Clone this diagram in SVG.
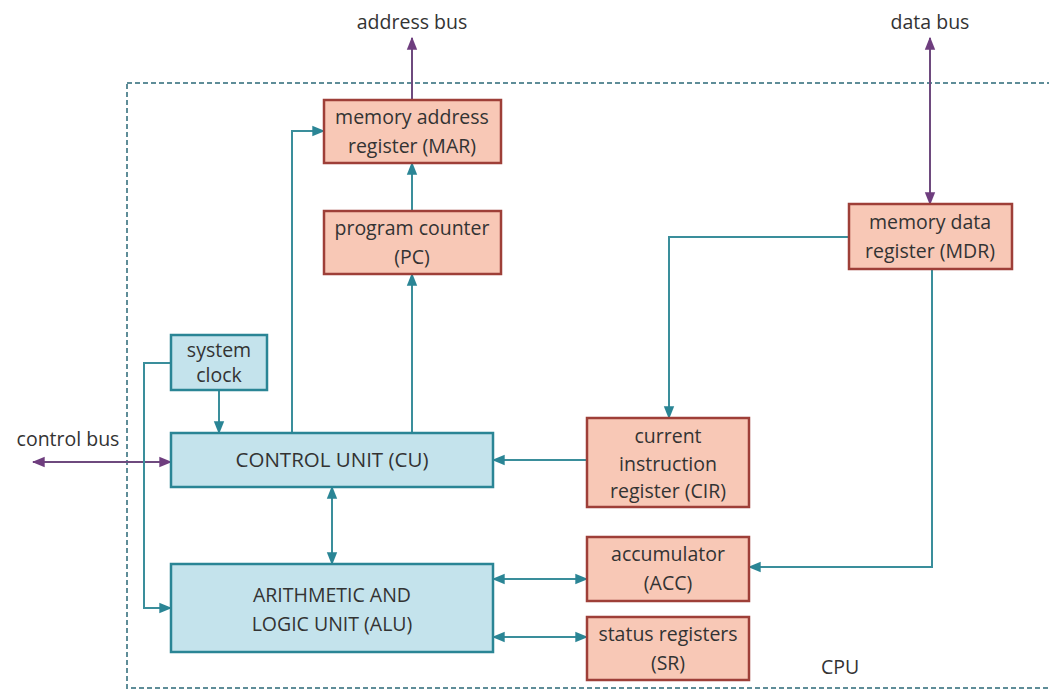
<svg xmlns="http://www.w3.org/2000/svg" width="1049" height="700" viewBox="0 0 1049 700">
<style>
.pink{fill:#f8c8b6;stroke:#9e3f38;stroke-width:2.5}
.blue{fill:#c4e3ec;stroke:#2a8595;stroke-width:2.5}
.t{font-family:"Open Sans","Liberation Sans",sans-serif;font-size:19.5px;fill:#333;text-anchor:middle}
.c{fill:none;stroke:#3a8e9b;stroke-width:2}
.p{fill:none;stroke:#6e4a7e;stroke-width:2}
</style>
<defs>
<marker id="ap" viewBox="0 0 10 10" refX="9" refY="5" markerWidth="13" markerHeight="13" orient="auto-start-reverse" markerUnits="userSpaceOnUse">
<path d="M0,1 L10,5 L0,9 z" fill="#6e3d7e"/>
</marker>
<marker id="at" viewBox="0 0 10 10" refX="9" refY="5" markerWidth="13" markerHeight="13" orient="auto-start-reverse" markerUnits="userSpaceOnUse">
<path d="M0,1 L10,5 L0,9 z" fill="#2a8595"/>
</marker>
</defs>
<rect x="127" y="83" width="930" height="605" fill="none" stroke="#5e8d98" stroke-width="2" stroke-dasharray="5,3"/>
<text class="t" x="840" y="674">CPU</text>
<text class="t" x="412" y="29">address bus</text>
<text class="t" x="930" y="29">data bus</text>
<text class="t" x="68" y="446">control bus</text>
<g id="connectors">
<path class="p" d="M412,100 V38" marker-end="url(#ap)"/>
<path class="p" d="M930,38 V204" marker-start="url(#ap)" marker-end="url(#ap)"/>
<path class="p" d="M33,462 H171" marker-start="url(#ap)" marker-end="url(#ap)"/>
<path class="c" d="M412,211 V163" marker-end="url(#at)"/>
<path class="c" d="M412,433 V274" marker-end="url(#at)"/>
<path class="c" d="M292,433 V131 H324" marker-end="url(#at)"/>
<path class="c" d="M849,237 H669 V418" marker-end="url(#at)"/>
<path class="c" d="M932,269 V567 H749" marker-end="url(#at)"/>
<path class="c" d="M587,460 H493" marker-end="url(#at)"/>
<path class="c" d="M219,390 V433" marker-end="url(#at)"/>
<path class="c" d="M171,363 H144 V608 H171" marker-end="url(#at)"/>
<path class="c" d="M332,487 V564" marker-start="url(#at)" marker-end="url(#at)"/>
<path class="c" d="M493,579 H587" marker-start="url(#at)" marker-end="url(#at)"/>
<path class="c" d="M493,637 H587" marker-start="url(#at)" marker-end="url(#at)"/>
</g>
<g id="mar"><rect class="pink" x="324" y="100" width="177" height="63"/><text class="t" x="412" y="124">memory address</text><text class="t" x="412" y="153">register (MAR)</text></g>
<g id="pc"><rect class="pink" x="324" y="211" width="177" height="63"/><text class="t" x="412" y="235">program counter</text><text class="t" x="412" y="264">(PC)</text></g>
<g id="mdr"><rect class="pink" x="849" y="204" width="163" height="65"/><text class="t" x="930" y="229">memory data</text><text class="t" x="930" y="258">register (MDR)</text></g>
<g id="clock"><rect class="blue" x="171" y="335" width="96" height="55"/><text class="t" x="219" y="357">system</text><text class="t" x="219" y="382">clock</text></g>
<g id="cu"><rect class="blue" x="171" y="433" width="322" height="54"/><text class="t" x="332" y="467" style="font-size:20.5px">CONTROL UNIT (CU)</text></g>
<g id="alu"><rect class="blue" x="171" y="564" width="322" height="88"/><text class="t" x="332" y="602">ARITHMETIC AND</text><text class="t" x="332" y="631">LOGIC UNIT (ALU)</text></g>
<g id="cir"><rect class="pink" x="587" y="418" width="162" height="89"/><text class="t" x="668" y="443">current</text><text class="t" x="668" y="471">instruction</text><text class="t" x="668" y="498">register (CIR)</text></g>
<g id="acc"><rect class="pink" x="587" y="537" width="162" height="64"/><text class="t" x="668" y="561">accumulator</text><text class="t" x="668" y="590">(ACC)</text></g>
<g id="sr"><rect class="pink" x="587" y="617" width="162" height="63"/><text class="t" x="668" y="641">status registers</text><text class="t" x="668" y="670">(SR)</text></g>
</svg>
